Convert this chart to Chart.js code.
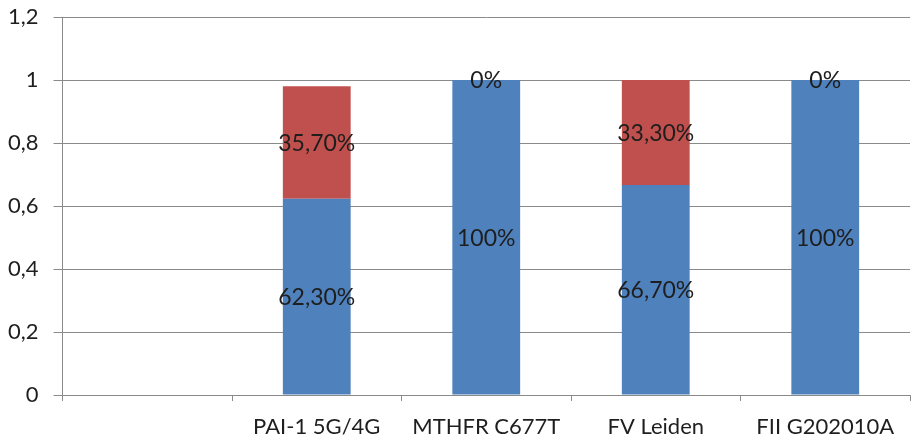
<!DOCTYPE html>
<html>
<head>
<meta charset="utf-8">
<script src="https://cdn.jsdelivr.net/npm/chart.js@4"></script>
<style>
  html, body { margin: 0; padding: 0; background: #fff; }
  #wrap { width: 912px; height: 441px; }
</style>
</head>
<body>
<div id="wrap"><canvas id="c" width="912" height="441"></canvas></div>
<script>
// Genotype categories (first slot intentionally blank)
const categories = ['', 'PAI-1 5G/4G', 'MTHFR C677T', 'FV Leiden', 'FII G202010A'];
// Share of each genotype group per polymorphism
const blueValues = [null, 0.623, 1.0, 0.667, 1.0];
const redValues  = [null, 0.357, 0.0, 0.333, 0.0];
// Y axis tick labels (decimal comma)
const yTickLabels = ['0', '0,2', '0,4', '0,6', '0,8', '1', '1,2'];

const FONT = 'Lato, "Open Sans", sans-serif';
const GRID = '#8a8a8a';

function pctLabel(v) {
  const p = Math.round(v * 10000) / 100;
  return (p % 1 === 0) ? p + '%' : p.toFixed(2).replace('.', ',') + '%';
}

// Draws each segment's value as centred text
const centreLabels = {
  id: 'centreLabels',
  afterDatasetsDraw(chart) {
    const ctx = chart.ctx;
    ctx.save();
    ctx.font = '23px ' + FONT;
    ctx.fillStyle = '#1e1e1e';
    ctx.textAlign = 'center';
    ctx.textBaseline = 'middle';
    chart.data.datasets.forEach((ds, di) => {
      const meta = chart.getDatasetMeta(di);
      meta.data.forEach((bar, i) => {
        const v = ds.data[i];
        if (v === null || v === undefined) return;
        const { x, y, base } = bar.getProps(['x', 'y', 'base'], true);
        ctx.fillText(pctLabel(v), x, (y + base) / 2 + 1);
      });
    });
    ctx.restore();
  }
};

new Chart(document.getElementById('c'), {
  type: 'bar',
  data: {
    labels: categories,
    datasets: [
      { data: blueValues, backgroundColor: '#4F81BD', barPercentage: 0.4, categoryPercentage: 1 },
      { data: redValues,  backgroundColor: '#C0504D', barPercentage: 0.4, categoryPercentage: 1 }
    ]
  },
  options: {
    responsive: false,
    animation: false,
    layout: { padding: { top: 17, right: 2, left: 0, bottom: 0 } },
    plugins: { legend: { display: false }, tooltip: { enabled: false } },
    scales: {
      x: {
        stacked: true,
        grid: { drawOnChartArea: false, drawTicks: true, tickLength: 6, color: GRID, offset: true },
        border: { color: GRID, width: 1 },
        ticks: { color: '#1e1e1e', font: { family: FONT, size: 22 }, padding: 13, maxRotation: 0, autoSkip: false },
        afterFit(s) { s.height = 46; s.paddingLeft = 0; s.paddingRight = 0; }
      },
      y: {
        stacked: true,
        min: 0, max: 1.2,
        grid: { color: GRID, tickLength: 9 },
        border: { color: GRID, width: 1 },
        ticks: {
          stepSize: 0.2,
          color: '#1e1e1e',
          font: { family: FONT, size: 22 },
          padding: 15,
          callback: (v, i) => yTickLabels[i]
        },
        afterFit(s) { s.width = 62.5; s.paddingTop = 0; s.paddingBottom = 0; }
      }
    }
  },
  plugins: [centreLabels]
});
</script>
</body>
</html>
